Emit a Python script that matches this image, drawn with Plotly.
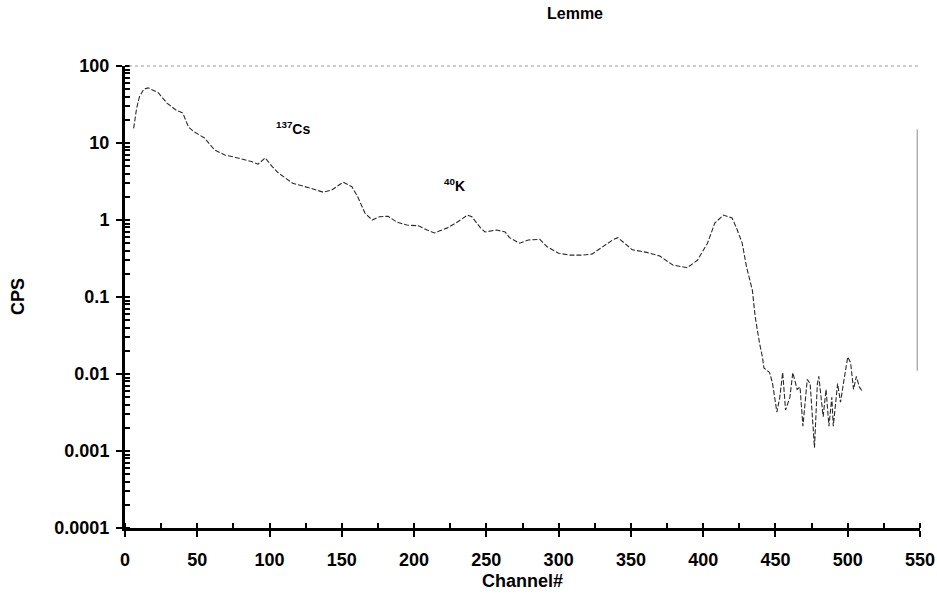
import plotly.graph_objects as go

# Gamma spectrum, counts per second by channel
channels = [6, 8, 10, 13, 16, 20, 23, 29, 35, 40, 44, 48, 55, 62, 69, 78, 88, 92, 97, 102,
            106, 116, 122, 128, 137, 143, 151, 157, 161, 166, 171, 176, 182, 188, 195, 203,
            209, 214, 223, 230, 237, 240, 246, 249, 257, 263, 266, 273, 279, 287, 292, 300,
            308, 316, 323, 329, 338, 341, 351, 361, 370, 379, 389, 396, 403, 408, 414, 420,
            423, 427, 430, 434, 436, 439, 441, 442, 444, 446, 448, 451, 453, 455, 457, 460,
            462, 465, 467, 469, 472, 474, 477, 479, 480, 483, 485, 487, 489, 490, 493, 495,
            497, 500, 502, 504, 506, 508, 510]
cps = [15.5, 28, 40, 50, 52, 48, 45, 33, 27, 24.5, 16, 13.9, 11.6, 8.1, 7.0, 6.4, 5.7, 5.3, 6.4, 4.9,
       4.1, 3.0, 2.8, 2.6, 2.3, 2.45, 3.1, 2.7, 2.0, 1.23, 1.0, 1.1, 1.12, 0.94, 0.86, 0.84,
       0.74, 0.68, 0.79, 0.94, 1.16, 1.1, 0.79, 0.70, 0.74, 0.70, 0.59, 0.50, 0.55, 0.56, 0.45, 0.37,
       0.35, 0.35, 0.36, 0.43, 0.56, 0.59, 0.41, 0.38, 0.34, 0.26, 0.24, 0.30, 0.50, 0.91, 1.16, 1.06,
       0.79, 0.50, 0.245, 0.123, 0.055, 0.025, 0.0166, 0.012, 0.011, 0.0104, 0.0075, 0.0032, 0.0050, 0.0105, 0.0034, 0.0050,
       0.0104, 0.0063, 0.0068, 0.0021, 0.0085, 0.0075, 0.0011, 0.0075, 0.0093, 0.0028, 0.0063, 0.0021, 0.0050, 0.0021, 0.0075, 0.0043,
       0.0075, 0.0166, 0.0140, 0.0063, 0.0093, 0.0068, 0.0060]

x_ticks = list(range(0, 551, 50))
y_tickvals = [0.0001, 0.001, 0.01, 0.1, 1, 10, 100]
y_ticktext = ["0.0001", "0.001", "0.01", "0.1", "1", "10", "100"]

FONT = "Liberation Sans, Arial, sans-serif"
W, H = 937, 595
ML, MR, MT, MB = 125, 17, 66, 67
PW, PH = W - ML - MR, H - MT - MB


def px_to_paper(px, py):
    """Pixel position on the page -> paper coordinates of the plot area."""
    return (px - ML) / PW, (H - MB - py) / PH


fig = go.Figure()
fig.add_trace(go.Scatter(
    x=channels, y=cps, mode="lines",
    line=dict(color="#2a2a2a", width=1.1, dash="5px,2px"),
    showlegend=False, hoverinfo="x+y",
))

cps_x, cps_y = px_to_paper(18, 297)
ch_x, ch_y = px_to_paper(522, 581)

fig.update_layout(
    width=W, height=H,
    margin=dict(l=ML, r=MR, t=MT, b=MB, autoexpand=False),
    paper_bgcolor="white", plot_bgcolor="white",
    font=dict(family=FONT, color="black", size=14),
    title=dict(text="<b>Lemme</b>", x=575 / W, xanchor="center",
               y=1 - 13 / H, yanchor="middle",
               font=dict(family=FONT, size=16, color="black")),
    annotations=[
        dict(text="<b>CPS</b>", x=cps_x, y=cps_y, xref="paper", yref="paper",
             xanchor="center", yanchor="middle", showarrow=False,
             textangle=-90, font=dict(size=18)),
        dict(text="<b>Channel#</b>", x=ch_x, y=ch_y, xref="paper", yref="paper",
             xanchor="center", yanchor="middle", showarrow=False,
             font=dict(size=18)),
        # peak labels (y given as log10 value on the log axis)
        dict(text="<b><sup>137</sup>Cs</b>", x=116, y=1.19, xref="x", yref="y", showarrow=False,
             font=dict(size=14)),
        dict(text="<b><sup>40</sup>K</b>", x=228, y=0.455, xref="x", yref="y", showarrow=False,
             font=dict(size=14)),
    ],
)

fig.update_xaxes(
    range=[0, 550], tickvals=x_ticks, ticktext=[str(v) for v in x_ticks],
    automargin=False,
    showgrid=False, zeroline=False,
    showline=True, linecolor="black", linewidth=3,
    ticks="outside", ticklen=6, tickwidth=2, tickcolor="black",
    ticklabelstandoff=7,
    minor=dict(dtick=25, ticks="inside", ticklen=5, tickwidth=2, tickcolor="black"),
    tickfont=dict(family=FONT, size=18, weight="bold"),
)
fig.update_yaxes(
    type="log", range=[-4, 2], tickvals=y_tickvals, ticktext=y_ticktext,
    automargin=False,
    showgrid=False, zeroline=False,
    showline=True, linecolor="black", linewidth=3,
    ticks="outside", ticklen=6, tickwidth=2, tickcolor="black",
    ticklabelstandoff=3,
    minor=dict(dtick="D1", ticks="inside", ticklen=5, tickwidth=2, tickcolor="black"),
    tickfont=dict(family=FONT, size=18, weight="bold"),
)

# Faint top frame line at the 100 CPS level and partial right border
fig.add_shape(type="line", xref="paper", yref="paper", x0=0.005, x1=1, y0=1, y1=1,
              line=dict(color="#9a9a9a", width=1, dash="dot"))
fig.add_shape(type="line", xref="paper", yref="y", x0=0.9965, x1=0.9965, y0=15, y1=0.011,
              line=dict(color="#8a8a8a", width=1))

fig.write_html("out.html")
